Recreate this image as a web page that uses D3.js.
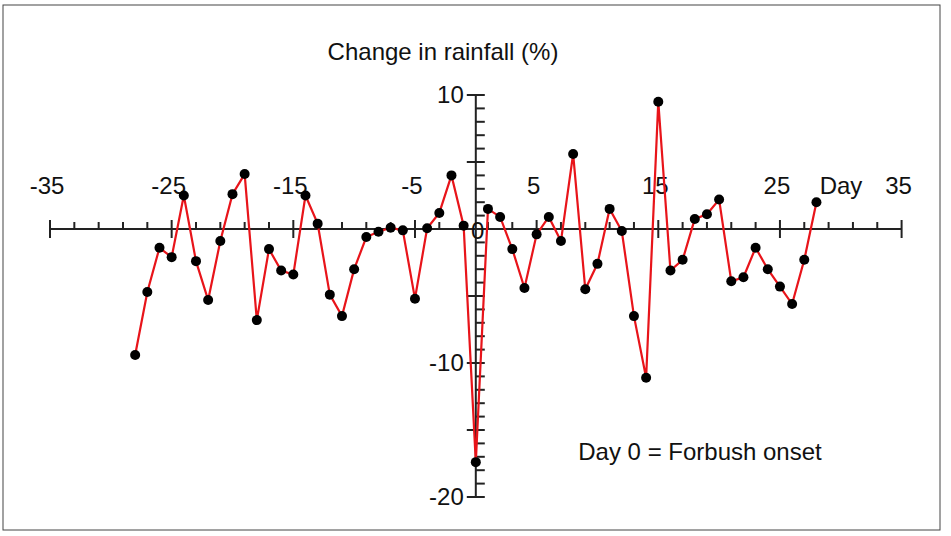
<!DOCTYPE html>
<html><head><meta charset="utf-8">
<script src="https://cdn.jsdelivr.net/npm/d3@7"></script>
<style>body{margin:0;background:#fff}text{font-family:"Liberation Sans",Arial,sans-serif;fill:#111}</style>
</head><body>
<svg id="c" width="951" height="536"></svg>
<script>
// days -28..28
const days = d3.range(-28, 29);
const values = [-9.4,-4.7,-1.4,-2.1,2.5,-2.4,-5.3,-0.9,2.6,4.1,-6.8,-1.5,-3.1,-3.4,2.5,0.4,-4.9,-6.5,-3.0,-0.6,-0.2,0.1,-0.1,-5.2,0.05,1.2,4.0,0.25,
  -17.4,1.5,0.9,-1.5,-4.4,-0.4,0.9,-0.9,5.6,-4.5,-2.6,1.5,-0.15,-6.5,-11.1,9.5,-3.1,-2.3,0.75,1.1,2.2,-3.9,-3.6,-1.4,-3.0,-4.3,-5.6,-2.3,2.0];
const xLabels = [-35,-25,-15,-5,5,15,25,35];
const yLabels = [10,-10,-20];

const svg = d3.select("#c");
const x = d3.scaleLinear().domain([-35,35]).range([50,901.6]);
const y = d3.scaleLinear().domain([-20,10]).range([497,95]);
const y0 = y(0), x0 = x(0);

svg.append("rect").attr("x",3).attr("y",5).attr("width",937).attr("height",525)
  .attr("fill","none").attr("stroke","#444").attr("stroke-width",1);

const ax = svg.append("g").attr("stroke","#222").attr("stroke-width",2);
ax.append("line").attr("x1",x(-35)).attr("x2",x(35)).attr("y1",y0).attr("y2",y0);
ax.append("line").attr("x1",x0).attr("x2",x0).attr("y1",y(10)).attr("y2",y(-20));
d3.range(-35,36,2).forEach(d=>{
  const major = xLabels.includes(d);
  ax.append("line").attr("x1",x(d)).attr("x2",x(d))
    .attr("y1",major?y0-9:y0-7).attr("y2",major?y0+9:y0);
});
d3.range(-20,11,1).forEach(v=>{
  if(v===0) return;
  const major = v%5===0;
  ax.append("line").attr("y1",y(v)).attr("y2",y(v))
    .attr("x1",major?x0-9:x0).attr("x2",x0+9);
});

const fs = "24px";
xLabels.forEach(d=>svg.append("text").attr("x",x(d)-3).attr("y",194)
  .attr("text-anchor","middle").style("font-size",fs).text(d));
svg.append("text").attr("x",841).attr("y",194).attr("text-anchor","middle").style("font-size",fs).text("Day");
svg.append("text").attr("x",x0+2).attr("y",y0+10).attr("text-anchor","middle").style("font-size",fs).text("0");
yLabels.forEach(v=>svg.append("text").attr("x",x0-12).attr("y",y(v)+8)
  .attr("text-anchor","end").style("font-size",fs).text(v));
svg.append("text").attr("x",443).attr("y",60).attr("text-anchor","middle").style("font-size",fs).text("Change in rainfall (%)");
svg.append("text").attr("x",700).attr("y",460).attr("text-anchor","middle").style("font-size",fs).text("Day 0 = Forbush onset");

const pts = days.map((d,i)=>[d,values[i]]);
svg.append("path").datum(pts).attr("fill","none").attr("stroke","#e8141a").attr("stroke-width",2.2)
  .attr("d",d3.line().x(p=>x(p[0])).y(p=>y(p[1])));
svg.selectAll("circle.p").data(pts).join("circle").attr("class","p")
  .attr("cx",p=>x(p[0])).attr("cy",p=>y(p[1])).attr("r",5).attr("fill","#000");
</script>
</body></html>
